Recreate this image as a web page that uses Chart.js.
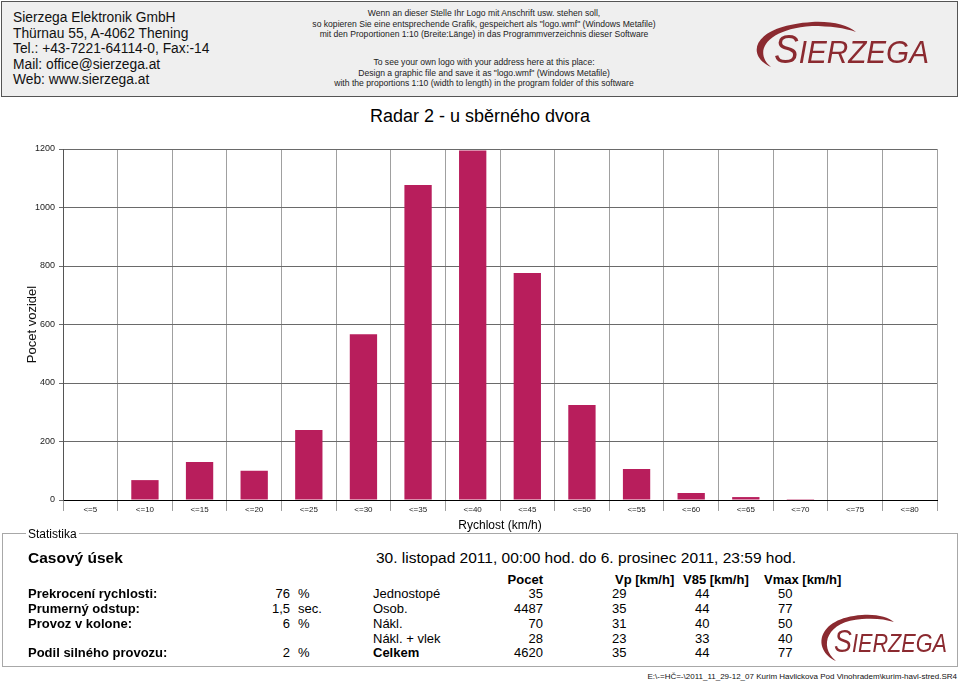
<!DOCTYPE html>
<html>
<head>
<meta charset="utf-8">
<script src="https://cdn.jsdelivr.net/npm/chart.js@4.4.1/dist/chart.umd.min.js"></script>
<style>
  body { margin: 0; background: #fff; font-family: "Liberation Sans", Arial, sans-serif; color: #000; }
  #page { position: relative; width: 960px; height: 684px; overflow: hidden; }
  .abs { position: absolute; white-space: nowrap; }
  #header { position: absolute; left: 1px; top: 1px; width: 955px; height: 94px; border: 1px solid #555; background: #efefef; }
  .addr { position: absolute; left: 13px; font-size: 13.8px; line-height: 15.5px; color: #111; }
  .note { position: absolute; left: 284px; width: 400px; text-align: center; font-size: 8.6px; line-height: 10.5px; color: #222; }
  #title { position: absolute; left: 280px; width: 400px; top: 105px; text-align: center; font-size: 18px; line-height: 22px; }
  #chart { position: absolute; left: 0; top: 100px; }
  #stats { position: absolute; left: 2px; top: 533px; width: 954px; height: 132px; border: 1px solid #a8a8a8; }
  .lbl { font-size: 12px; line-height: 12px; }
  .big { font-size: 15.5px; line-height: 18px; }
  .row { font-size: 13px; line-height: 15px; }
  .b { font-weight: bold; }
</style>
</head>
<body>
<div id="page">
  <div id="header"></div>
  <div class="addr" style="top:10px">Sierzega Elektronik GmbH<br>Thürnau 55, A-4062 Thening<br>Tel.: +43-7221-64114-0, Fax:-14<br>Mail: office@sierzega.at<br>Web: www.sierzega.at</div>
  <div class="note" style="top:8px">Wenn an dieser Stelle Ihr Logo mit Anschrift usw. stehen soll,<br>so kopieren Sie eine entsprechende Grafik, gespeichert als "logo.wmf" (Windows Metafile)<br>mit den Proportionen 1:10 (Breite:Länge) in das Programmverzeichnis dieser Software</div>
  <div class="note" style="top:57px">To see your own logo with your address here at this place:<br>Design a graphic file and save it as "logo.wmf" (Windows Metafile)<br>with the proportions 1:10 (width to length) in the program folder of this software</div>

  <div id="title">Radar 2 - u sběrného dvora</div>
  <canvas id="chart" width="960" height="433"></canvas>

  <div id="stats"></div>
  <div class="abs lbl" style="left:26px;top:528px;background:#fff;padding:0 2px">Statistika</div>

  <div class="abs big b" style="left:28px;top:549px">Casový úsek</div>
  <div class="abs big" style="left:376px;top:549px">30. listopad 2011, 00:00 hod. do 6. prosinec 2011, 23:59 hod.</div>

  <div id="table"></div>

  <div class="abs" style="right:3px;top:672px;font-size:8px;line-height:10px;color:#111">E:\-=HČ=-\2011_11_29-12_07 Kurim Havlickova Pod Vinohradem\kurim-havl-stred.SR4</div>

  <svg class="abs" style="left:0;top:0;pointer-events:none" width="960" height="684">
    <path d="M 771 67 C 745 55, 752 26, 812 22 C 832 21, 848 25, 856 32 C 845 28, 830 26, 812 26 C 766 29, 753 52, 771 67 Z" fill="#8b2a30"/>
    <text x="774" y="63" font-family="Liberation Sans, Arial" font-style="italic" fill="#8b2a30" textLength="155" lengthAdjust="spacingAndGlyphs"><tspan font-size="40">S</tspan><tspan font-size="32">IERZEGA</tspan></text>
    <path d="M 836 661 C 812 650, 816 618, 862 615 C 877 614, 888 617, 894 622 C 885 619, 874 618, 862 619 C 827 621, 818 646, 836 661 Z" fill="#8b2a30"/>
    <text x="834" y="652" font-family="Liberation Sans, Arial" font-style="italic" fill="#8b2a30" textLength="113" lengthAdjust="spacingAndGlyphs"><tspan font-size="31">S</tspan><tspan font-size="25">IERZEGA</tspan></text>
  </svg>
</div>

<script>
const speedLabels = ['<=5', '<=10', '<=15', '<=20', '<=25', '<=30', '<=35', '<=40',
                     '<=45', '<=50', '<=55', '<=60', '<=65', '<=70', '<=75', '<=80'];
const vehicleCounts = [0, 68, 130, 100, 239, 567, 1077, 1195, 776, 325, 106, 24, 10, 3, 0, 0];

const statLabels = ['Prekrocení rychlosti:', 'Prumerný odstup:', 'Provoz v kolone:', '', 'Podil silného provozu:'];
const statValues = ['76', '1,5', '6', '', '2'];
const statUnits = ['%', 'sec.', '%', '', '%'];
const vehicleTypes = ['Jednostopé', 'Osob.', 'Nákl.', 'Nákl. + vlek', 'Celkem'];
const typeCounts = [35, 4487, 70, 28, 4620];
const typeVp = [29, 35, 31, 23, 35];
const typeV85 = [44, 44, 40, 33, 44];
const typeVmax = [50, 77, 50, 40, 77];

// statistics table
const table = document.getElementById('table');
function cell(text, left, top, cls, right) {
  const d = document.createElement('div');
  d.className = 'abs row ' + (cls || '');
  d.textContent = text;
  d.style.top = top + 'px';
  if (right) d.style.right = (960 - left) + 'px';
  else d.style.left = left + 'px';
  table.appendChild(d);
}
cell('Pocet', 543, 572, 'b', true);
cell('Vp [km/h]', 615, 572, 'b');
cell('V85 [km/h]', 683, 572, 'b');
cell('Vmax [km/h]', 764, 572, 'b');
const rowTops = [586, 601, 615.5, 630.5, 645];
rowTops.forEach((top, i) => {
  if (statLabels[i]) {
    cell(statLabels[i], 28, top, 'b');
    cell(statValues[i], 290, top, '', true);
    cell(statUnits[i], 298, top);
  }
  cell(vehicleTypes[i], 373, top, i === 4 ? 'b' : '');
  cell(String(typeCounts[i]), 543, top, '', true);
  cell(String(typeVp[i]), 612, top);
  cell(String(typeV85[i]), 695, top);
  cell(String(typeVmax[i]), 778, top);
});

const font = 'Liberation Sans, Arial, sans-serif';

new Chart(document.getElementById('chart'), {
  type: 'bar',
  data: {
    labels: speedLabels,
    datasets: [{
      data: vehicleCounts,
      backgroundColor: '#b81e5c',
      borderWidth: 0,
      barPercentage: 0.5,
      categoryPercentage: 1.0
    }]
  },
  options: {
    responsive: false,
    animation: false,
    devicePixelRatio: 1,
    layout: { padding: { left: 0, right: 23, top: 49, bottom: 0 } },
    plugins: {
      legend: { display: false },
      tooltip: { enabled: false }
    },
    scales: {
      x: {
        offset: true,
        grid: { offset: true, color: '#a0a0a0', lineWidth: 1, tickLength: 11 },
        border: { color: '#000', width: 1 },
        ticks: { color: '#222', font: { family: font, size: 8 }, padding: -6, maxRotation: 0, autoSkip: false },
        title: { display: true, text: 'Rychlost (km/h)', color: '#000', font: { family: font, size: 12 }, padding: { top: 0, bottom: 0 } },
        afterFit: s => { s.height = 33; }
      },
      y: {
        min: 0,
        max: 1200,
        ticks: { stepSize: 200, color: '#222', font: { family: font, size: 9 }, padding: 4, callback: v => String(v) },
        grid: { color: '#6a6a6a', lineWidth: 1, tickLength: 4 },
        border: { color: '#555', width: 1 },
        title: { display: true, text: 'Pocet vozidel', color: '#111', font: { family: font, size: 13 }, padding: { top: 25, bottom: 0 } },
        afterFit: s => { s.width = 63; }
      }
    }
  }
});
</script>
</body>
</html>
